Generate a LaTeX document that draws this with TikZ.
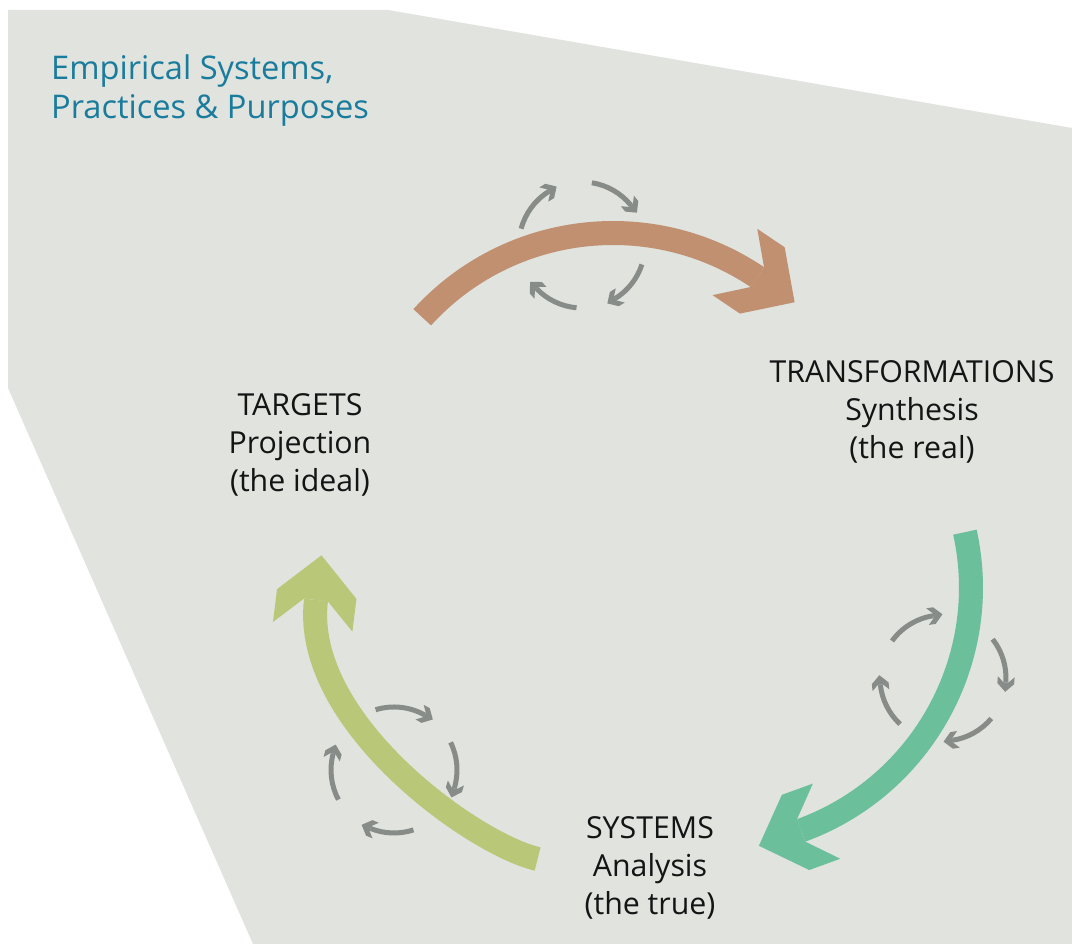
\documentclass[tikz,border=0pt]{standalone}
\usepackage{fontspec}
\setmainfont{Open Sans}
\usetikzlibrary{positioning}
\definecolor{colorBack}{HTML}{E0E3DE}
\definecolor{colorTitle}{HTML}{1A7C9C}
\definecolor{colorTarget}{HTML}{B8C878}
\definecolor{colorTrans}{HTML}{C09070}
\definecolor{colorSystem}{HTML}{6BBF9A}
\definecolor{colorCycle}{HTML}{878C88}
\definecolor{colorText}{HTML}{141414}
\tikzset{
  chev/.pic={\fill (45,0) -- (6,40) -- (-27,40) -- (0,12) -- (0,-12) -- (-27,-40) -- (6,-40) -- cycle;},
  bigarrow/.style={line width=24pt},
  cycarrow/.style={line width=5pt, colorCycle},
  stage/.style={align=center, inner sep=0pt, text=colorText, font=\fontsize{30.3}{38}\selectfont},
}

\begin{document}
\begin{tikzpicture}[x=1pt, y=1pt]
\useasboundingbox (0,0) rectangle (1072,944);
\fill[colorBack] (8,934) -- (388,934) -- (1072,816) -- (1072,0) -- (253,0) -- (8,556) -- cycle;
\node[anchor=north west, align=left, inner sep=0pt, text=colorTitle, font=\fontsize{32.6}{39}\selectfont] (title) at (51,889) {Empirical Systems,\\Practices \& Purposes};
\node[stage] (targets) at (300,499) {TARGETS\\Projection\\(the ideal)};
\node[stage] (transf) at (912,532) {TRANSFORMATIONS\\Synthesis\\(the real)};
\node[stage] (systems) at (650,76) {SYSTEMS\\Analysis\\(the true)};
\coordinate (tgtOut) at (422.2,626.7);
\coordinate (trfIn) at (757.3,666.9);
\coordinate (trfOut) at (964.9,411.8);
\coordinate (sysIn) at (801.2,113.6);
\coordinate (sysOut) at (537.6,85);
\coordinate (tgtIn) at (316,344);
\draw[bigarrow, colorTrans] (tgtOut) to[out=47.7, in=146, distance=128pt] (trfIn);
\pic[rotate=-34, color=colorTrans] at (trfIn) {chev};
\draw[bigarrow, colorSystem] (trfOut) to[out=-77.5, in=20, distance=129pt] (sysIn);
\pic[rotate=-160, color=colorSystem] at (sysIn) {chev};
\draw[bigarrow, colorTarget] (sysOut) to[out=167, in=-97, out distance=66pt, in distance=122pt] (tgtIn);
\pic[rotate=83, color=colorTarget] at (tgtIn) {chev};
\coordinate (trfCycle) at (582,699);
\coordinate (sysCycle) at (943,266);
\coordinate (tgtCycle) at (394,174);
\foreach \s/\e in {165/122, 81/39, -18/-58, -95/-136}{
  \draw[cycarrow] ([shift={(\s:63)}]trfCycle) arc[start angle=\s, end angle=\e, radius=63];
  \pic[rotate=\e-90, scale=.21, color=colorCycle] at ([shift={(\e:63)}]trfCycle) {chev};
}
\foreach \s/\e in {144/99, 38/-4, -40/-81, -133/-174}{
  \draw[cycarrow] ([shift={(\s:63)}]sysCycle) arc[start angle=\s, end angle=\e, radius=63];
  \pic[rotate=\e-90, scale=.21, color=colorCycle] at ([shift={(\e:63)}]sysCycle) {chev};
}
\foreach \s/\e in {107/61, 26/-17, -72/-112, -152/-195}{
  \draw[cycarrow] ([shift={(\s:63)}]tgtCycle) arc[start angle=\s, end angle=\e, radius=63];
  \pic[rotate=\e-90, scale=.21, color=colorCycle] at ([shift={(\e:63)}]tgtCycle) {chev};
}
\end{tikzpicture}
\end{document}
